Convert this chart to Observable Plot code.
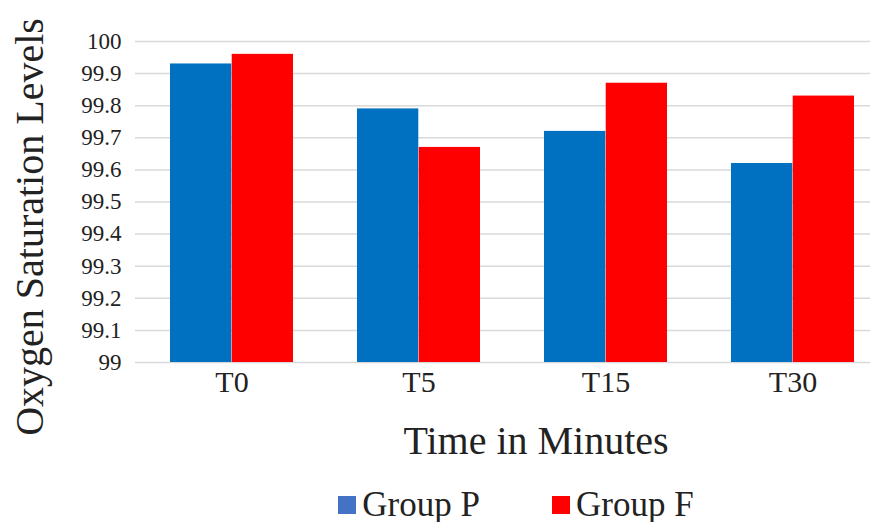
<!DOCTYPE html>
<html>
<head>
<meta charset="utf-8">
<script src="https://cdn.jsdelivr.net/npm/d3@7"></script>
<script src="https://cdn.jsdelivr.net/npm/@observablehq/plot@0.6"></script>
<style>
  body { margin: 0; background: white; font-family: "Liberation Serif", serif; }
  #chart svg [aria-label="y-axis tick label"] { font-size: 23px; }
  #chart svg [aria-label="y-axis label"] { font-size: 40px; }
  #chart svg [aria-label="x-axis tick label"] { font-size: 30px; }
  #legend { display: flex; justify-content: center; align-items: center; gap: 72px; margin-top: 20px; padding-left: 158px; font-size: 35px; line-height: 34px; color: #222; }
  #legend .item { display: flex; align-items: center; }
  #legend .sw { width: 18px; height: 18px; margin-right: 6px; display: inline-block; }
</style>
</head>
<body>
<div id="chart"></div>
<div id="legend"></div>
<script>
const times = ["T0", "T5", "T15", "T30"];
const groups = ["Group P", "Group F"];
const groupP = [99.93, 99.79, 99.72, 99.62];
const groupF = [99.96, 99.67, 99.87, 99.83];
const yDomain = [99, 100];
const yTicks = [99, 99.1, 99.2, 99.3, 99.4, 99.5, 99.6, 99.7, 99.8, 99.9, 100];
const xTitle = "Time in Minutes";
const yTitle = "Oxygen Saturation Levels";
const barColors = ["#0070C0", "#FF0000"];
const legendColors = ["#4472C4", "#FF0000"];

const W = 874, H = 468, ML = 135, MR = 4, MT = 41, MB = 106;
const xOpts = {paddingInner: 0.34, paddingOuter: 0.135, align: 0.7};
const bw = d3.scaleBand(times, [ML, W - MR])
  .paddingInner(xOpts.paddingInner).paddingOuter(xOpts.paddingOuter).align(xOpts.align).bandwidth();

const dataP = times.map((t, i) => ({time: t, group: groups[0], value: groupP[i]}));
const dataF = times.map((t, i) => ({time: t, group: groups[1], value: groupF[i]}));

const chart = Plot.plot({
  width: W, height: H,
  marginLeft: ML, marginRight: MR, marginTop: MT, marginBottom: MB,
  style: {fontFamily: "Liberation Serif", color: "#222", background: "white"},
  x: {domain: times, ...xOpts, label: null, tickSize: 0, tickPadding: 8},
  y: {domain: yDomain, ticks: yTicks, tickSize: 0, tickPadding: 14,
      tickFormat: d => String(d),
      label: yTitle, labelAnchor: "center", labelOffset: 121},
  color: {domain: groups, range: barColors},
  marks: [
    Plot.ruleY(yTicks, {stroke: "#d9d9d9", strokeWidth: 1.5}),
    Plot.barY(dataP, {x: "time", y1: yDomain[0], y2: "value", fill: "group", insetRight: bw / 2}),
    Plot.barY(dataF, {x: "time", y1: yDomain[0], y2: "value", fill: "group", insetLeft: bw / 2}),
    Plot.text([xTitle], {frameAnchor: "bottom", dx: 33, dy: 79, fontSize: 40, fill: "#222", lineAnchor: "middle"})
  ]
});
document.getElementById("chart").appendChild(chart);

const legend = document.getElementById("legend");
groups.forEach((g, i) => {
  const item = document.createElement("div");
  item.className = "item";
  const sw = document.createElement("span");
  sw.className = "sw";
  sw.style.background = legendColors[i];
  const label = document.createElement("span");
  label.textContent = g;
  item.appendChild(sw);
  item.appendChild(label);
  legend.appendChild(item);
});
</script>
</body>
</html>
